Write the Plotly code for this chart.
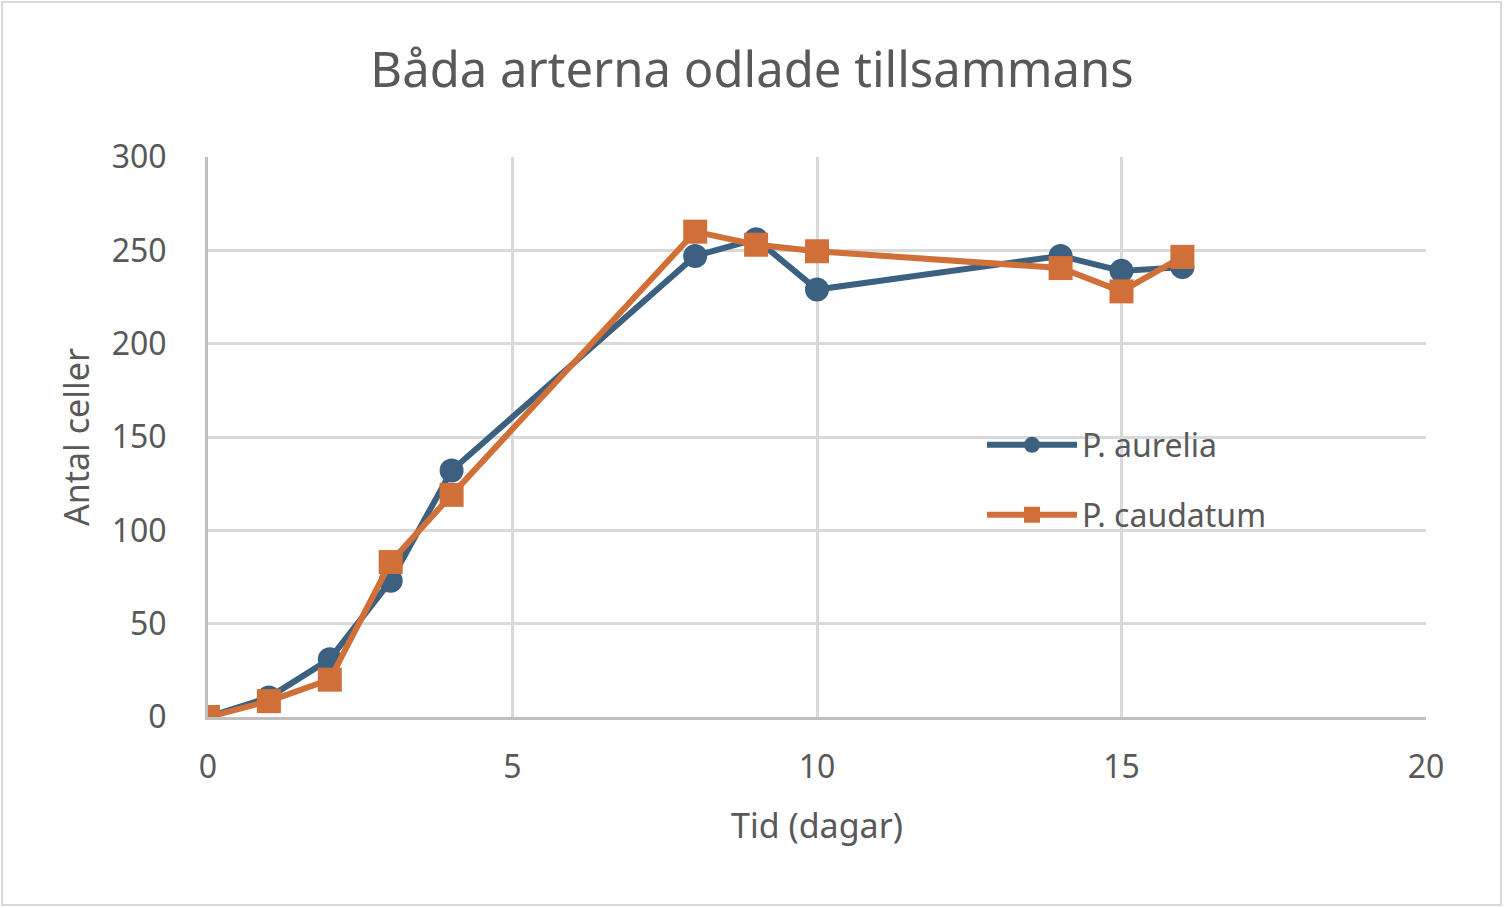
import plotly.graph_objects as go

# Data
tid = [0, 1, 2, 3, 4, 8, 9, 10, 14, 15, 16]
aurelia = [0, 10.5, 31, 73, 132, 247, 256, 229, 247, 239, 241]
caudatum = [0, 8.5, 20, 83, 119, 260, 253, 249.5, 240.5, 228, 246.5]

blue = "#3B6080"
orange = "#D07038"
grey_text = "#595959"
font_family = "Noto Sans, Open Sans, sans-serif"

fig = go.Figure()

fig.add_trace(go.Scatter(
    x=tid, y=aurelia, name="P. aurelia", mode="lines+markers",
    line=dict(color=blue, width=6),
    marker=dict(symbol="circle", size=24, color=blue),
    legend="legend",
))
fig.add_trace(go.Scatter(
    x=tid, y=caudatum, name="P. caudatum", mode="lines+markers",
    line=dict(color=orange, width=6),
    marker=dict(symbol="square", size=24, color=orange),
    legend="legend2",
))

legend_style = dict(
    x=(982 - 208) / 1218, xanchor="left", yanchor="middle",
    bgcolor="rgba(0,0,0,0)", borderwidth=0,
    font=dict(size=32, color=grey_text, family=font_family),
    itemwidth=90, visible=True,
)

fig.update_layout(
    width=1504, height=908,
    showlegend=True,
    paper_bgcolor="white", plot_bgcolor="white",
    margin=dict(l=208, r=78, t=157, b=191),
    font=dict(family=font_family, color=grey_text),
    title=dict(
        text="Båda arterna odlade tillsammans",
        x=0.5, xanchor="center", y=1 - 70 / 908, yanchor="middle",
        font=dict(size=49, color=grey_text, family=font_family),
    ),
    legend=dict(y=(717 - 445) / 560, **legend_style),
    legend2=dict(y=(717 - 515) / 560, **legend_style),
    xaxis=dict(
        range=[0, 20], dtick=5, tick0=0,
        showgrid=True, gridcolor="#d9d9d9", gridwidth=3,
        showline=True, linecolor="#bfbfbf", linewidth=3,
        zeroline=False, ticks="", ticklabelstandoff=20,
        tickfont=dict(size=32, color=grey_text),
        title=dict(text="Tid (dagar)", font=dict(size=34, color=grey_text), standoff=28),
    ),
    yaxis=dict(
        range=[0, 300], dtick=50, tick0=0,
        showgrid=True, gridcolor="#d9d9d9", gridwidth=3,
        showline=True, linecolor="#bfbfbf", linewidth=3,
        zeroline=False, ticks="", ticklabelstandoff=32,
        tickfont=dict(size=32, color=grey_text),
        title=dict(text="Antal celler", font=dict(size=34, color=grey_text), standoff=12),
    ),
)

# Outer chart border
fig.add_shape(
    type="rect", xref="paper", yref="paper",
    x0=(2 - 208) / 1218, x1=(1501 - 208) / 1218,
    y0=(717 - 905) / 560, y1=(717 - 2) / 560,
    line=dict(color="#d9d9d9", width=2), layer="below",
)

fig.write_html("out.html", config={"displayModeBar": False},
               post_script="document.body.style.margin='0';")
